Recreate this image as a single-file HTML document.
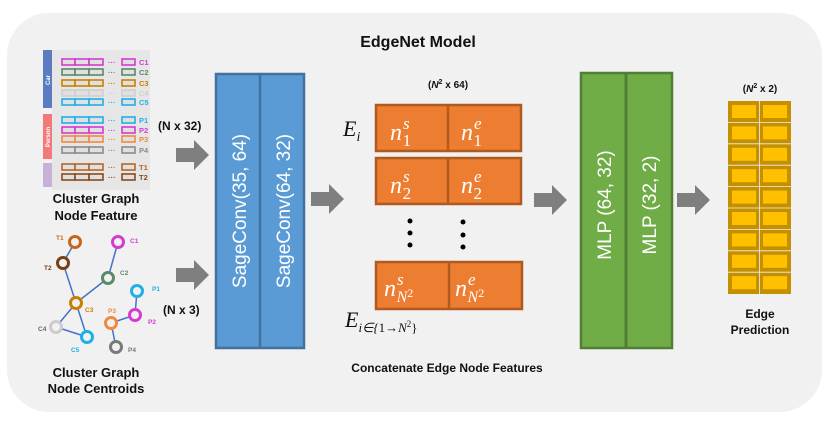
<!DOCTYPE html>
<html><head><meta charset="utf-8"><style>
html,body{margin:0;padding:0;background:#fff;}
svg{display:block;font-family:"Liberation Sans",sans-serif;}
</style></head><body>
<svg width="829" height="422" viewBox="0 0 829 422" xmlns="http://www.w3.org/2000/svg">
<defs>
<g id="arr"><polygon points="0,-7 18,-7 18,-15 33,0 18,15 18,7 0,7" fill="#7f7f7f"/></g>
</defs>
<rect x="7" y="13" width="815" height="399" rx="42" fill="#f1f1f1"/>
<text x="418" y="47" font-size="16" font-weight="bold" text-anchor="middle" fill="#111">EdgeNet Model</text>

<!-- feature table -->
<rect x="52" y="50" width="98" height="140" fill="#e6e6e6"/>
<rect x="43" y="50" width="9" height="58" fill="#5b7cc0"/>
<text transform="translate(50,80) rotate(-90)" font-size="6" fill="#fff" font-weight="bold" text-anchor="middle">Car</text>
<rect x="43" y="114" width="9" height="45" fill="#f47a7a"/>
<text transform="translate(50,137) rotate(-90)" font-size="6" fill="#fff" font-weight="bold" text-anchor="middle">Person</text>
<rect x="43" y="163" width="9" height="24" fill="#c8b1d8"/>
<g stroke-width="1.6" fill="#e0e0e0">
<g stroke="#d63ad0"><rect x="62" y="59" width="13" height="6"/><rect x="75" y="59" width="14" height="6"/><rect x="89" y="59" width="14" height="6"/><rect x="122" y="59" width="13" height="6"/></g>
<g stroke="#5a8a68"><rect x="62" y="69" width="13" height="6"/><rect x="75" y="69" width="14" height="6"/><rect x="89" y="69" width="14" height="6"/><rect x="122" y="69" width="13" height="6"/></g>
<g stroke="#c98000"><rect x="62" y="80" width="13" height="6"/><rect x="75" y="80" width="14" height="6"/><rect x="89" y="80" width="14" height="6"/><rect x="122" y="80" width="13" height="6"/></g>
<g stroke="#cfcfcf"><rect x="62" y="90" width="13" height="6"/><rect x="75" y="90" width="14" height="6"/><rect x="89" y="90" width="14" height="6"/><rect x="122" y="90" width="13" height="6"/></g>
<g stroke="#1fb0e8"><rect x="62" y="99" width="13" height="6"/><rect x="75" y="99" width="14" height="6"/><rect x="89" y="99" width="14" height="6"/><rect x="122" y="99" width="13" height="6"/></g>
<g stroke="#1fb0e8"><rect x="62" y="117" width="13" height="6"/><rect x="75" y="117" width="14" height="6"/><rect x="89" y="117" width="14" height="6"/><rect x="122" y="117" width="13" height="6"/></g>
<g stroke="#d63ad0"><rect x="62" y="127" width="13" height="6"/><rect x="75" y="127" width="14" height="6"/><rect x="89" y="127" width="14" height="6"/><rect x="122" y="127" width="13" height="6"/></g>
<g stroke="#f08a3e"><rect x="62" y="136" width="13" height="6"/><rect x="75" y="136" width="14" height="6"/><rect x="89" y="136" width="14" height="6"/><rect x="122" y="136" width="13" height="6"/></g>
<g stroke="#8a8a8a"><rect x="62" y="147" width="13" height="6"/><rect x="75" y="147" width="14" height="6"/><rect x="89" y="147" width="14" height="6"/><rect x="122" y="147" width="13" height="6"/></g>
<g stroke="#b5652a"><rect x="62" y="164" width="13" height="6"/><rect x="75" y="164" width="14" height="6"/><rect x="89" y="164" width="14" height="6"/><rect x="122" y="164" width="13" height="6"/></g>
<g stroke="#8a4a1e"><rect x="62" y="174" width="13" height="6"/><rect x="75" y="174" width="14" height="6"/><rect x="89" y="174" width="14" height="6"/><rect x="122" y="174" width="13" height="6"/></g>
</g>
<g font-size="7.5" font-weight="bold">
<text x="108" y="65" fill="#d63ad0">···</text><text x="139" y="65" fill="#d63ad0">C1</text>
<text x="108" y="75" fill="#5a8a68">···</text><text x="139" y="75" fill="#5a8a68">C2</text>
<text x="108" y="86" fill="#c98000">···</text><text x="139" y="86" fill="#c98000">C3</text>
<text x="108" y="96" fill="#cfcfcf">···</text><text x="139" y="96" fill="#cfcfcf">C4</text>
<text x="108" y="105" fill="#1fb0e8">···</text><text x="139" y="105" fill="#1fb0e8">C5</text>
<text x="108" y="123" fill="#1fb0e8">···</text><text x="139" y="123" fill="#1fb0e8">P1</text>
<text x="108" y="133" fill="#d63ad0">···</text><text x="139" y="133" fill="#d63ad0">P2</text>
<text x="108" y="142" fill="#f08a3e">···</text><text x="139" y="142" fill="#f08a3e">P3</text>
<text x="108" y="153" fill="#8a8a8a">···</text><text x="139" y="153" fill="#8a8a8a">P4</text>
<text x="108" y="170" fill="#b5652a">···</text><text x="139" y="170" fill="#b5652a">T1</text>
<text x="108" y="180" fill="#8a4a1e">···</text><text x="139" y="180" fill="#8a4a1e">T2</text>
</g>
<g font-size="13" font-weight="bold" text-anchor="middle" fill="#111">
<text x="96" y="203">Cluster Graph</text>
<text x="96" y="220">Node Feature</text>
<text x="96" y="377">Cluster Graph</text>
<text x="96" y="393">Node Centroids</text>
</g>

<!-- graph -->
<g stroke="#4472c4" stroke-width="1.5">
<line x1="75" y1="242" x2="63" y2="263"/><line x1="63" y1="263" x2="76" y2="303"/>
<line x1="118" y1="242" x2="108" y2="278"/><line x1="108" y1="278" x2="76" y2="303"/>
<line x1="76" y1="303" x2="56" y2="327"/><line x1="76" y1="303" x2="87" y2="337"/>
<line x1="56" y1="327" x2="87" y2="337"/>
<line x1="137" y1="291" x2="135" y2="315"/><line x1="135" y1="315" x2="111" y2="323"/><line x1="111" y1="323" x2="116" y2="347"/>
</g>
<g fill="#f1f1f1" stroke-width="3">
<circle cx="75" cy="242" r="5.5" stroke="#c8651c"/>
<circle cx="118" cy="242" r="5.5" stroke="#d63ad0"/>
<circle cx="63" cy="263" r="5.5" stroke="#7a3e14"/>
<circle cx="108" cy="278" r="5.5" stroke="#5a8a68"/>
<circle cx="76" cy="303" r="5.5" stroke="#c98000"/>
<circle cx="137" cy="291" r="5.5" stroke="#1fb0e8"/>
<circle cx="135" cy="315" r="5.5" stroke="#d63ad0"/>
<circle cx="111" cy="323" r="5.5" stroke="#f08a3e"/>
<circle cx="56" cy="327" r="5.5" stroke="#cccccc"/>
<circle cx="87" cy="337" r="5.5" stroke="#1fb0e8"/>
<circle cx="116" cy="347" r="5.5" stroke="#7a7a7a"/>
</g>
<g font-size="6.5" font-weight="bold">
<text x="56" y="240" fill="#c8651c">T1</text><text x="130" y="243" fill="#d63ad0">C1</text>
<text x="44" y="270" fill="#7a3e14">T2</text><text x="120" y="275" fill="#5a8a68">C2</text>
<text x="85" y="312" fill="#c98000">C3</text><text x="152" y="291" fill="#1fb0e8">P1</text>
<text x="148" y="324" fill="#d63ad0">P2</text><text x="108" y="313" fill="#f08a3e">P3</text>
<text x="38" y="331" fill="#666">C4</text><text x="71" y="352" fill="#1fb0e8">C5</text>
<text x="128" y="352" fill="#777">P4</text>
</g>

<!-- arrows -->
<use href="#arr" x="176" y="155"/>
<use href="#arr" x="176" y="275"/>
<use href="#arr" x="311" y="199"/>
<use href="#arr" x="534" y="200"/>
<use href="#arr" x="677" y="200"/>
<text x="158" y="130" font-size="12" font-weight="bold" fill="#111">(N x 32)</text>
<text x="163" y="314" font-size="12" font-weight="bold" fill="#111">(N x 3)</text>

<!-- SageConv -->
<rect x="216" y="74" width="88" height="274" fill="#5b9bd5" stroke="#41719c" stroke-width="2.5"/>
<line x1="260" y1="74" x2="260" y2="348" stroke="#41719c" stroke-width="2.5"/>
<text transform="translate(246,211) rotate(-90)" font-size="19" fill="#fff" text-anchor="middle">SageConv(35, 64)</text>
<text transform="translate(290,211) rotate(-90)" font-size="19" fill="#fff" text-anchor="middle">SageConv(64, 32)</text>

<!-- Orange -->
<text x="448" y="88" font-size="10" font-weight="bold" text-anchor="middle" fill="#111">(<tspan font-style="italic">N</tspan><tspan font-size="7" dy="-4">2</tspan><tspan dy="4"> x 64)</tspan></text>
<g fill="#ed7d31" stroke="#b05a20" stroke-width="2.5">
<rect x="376" y="105" width="145" height="46"/>
<rect x="376" y="158" width="145" height="46"/>
<rect x="376" y="262" width="146" height="47"/>
</g>
<g stroke="#b05a20" stroke-width="2.5">
<line x1="448" y1="105" x2="448" y2="151"/><line x1="448" y1="158" x2="448" y2="204"/><line x1="449" y1="262" x2="449" y2="309"/>
</g>
<g font-family="'Liberation Serif',serif" font-style="italic" fill="#fff" font-size="24">
<text x="390" y="140">n<tspan font-size="17" dx="1" dy="-11">s</tspan><tspan font-size="17" font-style="normal" dx="-7" dy="17">1</tspan></text>
<text x="461" y="140">n<tspan font-size="17" dx="1" dy="-11">e</tspan><tspan font-size="17" font-style="normal" dx="-8" dy="17">1</tspan></text>
<text x="390" y="193">n<tspan font-size="17" dx="1" dy="-11">s</tspan><tspan font-size="17" font-style="normal" dx="-7" dy="17">2</tspan></text>
<text x="461" y="193">n<tspan font-size="17" dx="1" dy="-11">e</tspan><tspan font-size="17" font-style="normal" dx="-8" dy="17">2</tspan></text>
<text x="384" y="296">n<tspan font-size="17" dx="1" dy="-11">s</tspan><tspan font-size="16" dx="-7" dy="17">N</tspan><tspan font-size="12" font-style="normal" dy="-5">2</tspan></text>
<text x="455" y="296">n<tspan font-size="17" dx="1" dy="-11">e</tspan><tspan font-size="16" dx="-8" dy="17">N</tspan><tspan font-size="12" font-style="normal" dy="-5">2</tspan></text>
</g>
<g fill="#000">
<circle cx="410" cy="221" r="2.5"/><circle cx="410" cy="233" r="2.5"/><circle cx="410" cy="245" r="2.5"/>
<circle cx="463" cy="222" r="2.5"/><circle cx="463" cy="235" r="2.5"/><circle cx="463" cy="247" r="2.5"/>
</g>
<g font-family="'Liberation Serif',serif" font-style="italic" fill="#111">
<text x="343" y="136" font-size="22">E<tspan font-size="14" dy="5">i</tspan></text>
<text x="345" y="327" font-size="22">E<tspan font-size="13" dy="5">i∈{</tspan><tspan font-style="normal" font-size="13">1→</tspan><tspan font-size="13">N</tspan><tspan font-size="9" font-style="normal" dy="-5">2</tspan><tspan font-size="13" font-style="normal" dy="5">}</tspan></text>
</g>
<text x="447" y="372" font-size="12" font-weight="bold" text-anchor="middle" fill="#111">Concatenate Edge Node Features</text>

<!-- MLP -->
<rect x="581" y="73" width="91" height="275" fill="#70ad47" stroke="#507e32" stroke-width="2.5"/>
<line x1="626" y1="73" x2="626" y2="348" stroke="#507e32" stroke-width="3"/>
<text transform="translate(611,205) rotate(-90)" font-size="19" fill="#fff" text-anchor="middle">MLP (64, 32)</text>
<text transform="translate(656,205) rotate(-90)" font-size="19" fill="#fff" text-anchor="middle">MLP (32, 2)</text>

<!-- output -->
<text x="760" y="92" font-size="10" font-weight="bold" text-anchor="middle" fill="#111">(<tspan font-style="italic">N</tspan><tspan font-size="7" dy="-4">2</tspan><tspan dy="4"> x 2)</tspan></text>
<rect x="728" y="101" width="63" height="193" fill="#c49000"/>
<g stroke="#eee" stroke-width="0.8">
<line x1="759.5" y1="101" x2="759.5" y2="294"/>
<line x1="728" y1="122.4" x2="791" y2="122.4"/><line x1="728" y1="143.8" x2="791" y2="143.8"/>
<line x1="728" y1="165.2" x2="791" y2="165.2"/><line x1="728" y1="186.6" x2="791" y2="186.6"/>
<line x1="728" y1="208" x2="791" y2="208"/><line x1="728" y1="229.4" x2="791" y2="229.4"/>
<line x1="728" y1="250.8" x2="791" y2="250.8"/><line x1="728" y1="272.2" x2="791" y2="272.2"/>
</g>
<g fill="#ffc000">
<rect x="732" y="105" width="24" height="13"/><rect x="763" y="105" width="24" height="13"/>
<rect x="732" y="126.4" width="24" height="13"/><rect x="763" y="126.4" width="24" height="13"/>
<rect x="732" y="147.8" width="24" height="13"/><rect x="763" y="147.8" width="24" height="13"/>
<rect x="732" y="169.2" width="24" height="13"/><rect x="763" y="169.2" width="24" height="13"/>
<rect x="732" y="190.6" width="24" height="13"/><rect x="763" y="190.6" width="24" height="13"/>
<rect x="732" y="212" width="24" height="13"/><rect x="763" y="212" width="24" height="13"/>
<rect x="732" y="233.4" width="24" height="13"/><rect x="763" y="233.4" width="24" height="13"/>
<rect x="732" y="254.8" width="24" height="13"/><rect x="763" y="254.8" width="24" height="13"/>
<rect x="732" y="276.2" width="24" height="13"/><rect x="763" y="276.2" width="24" height="13"/>
</g>
<text x="760" y="318" font-size="12" font-weight="bold" text-anchor="middle" fill="#111">Edge</text>
<text x="760" y="334" font-size="12" font-weight="bold" text-anchor="middle" fill="#111">Prediction</text>
</svg>
</body></html>
